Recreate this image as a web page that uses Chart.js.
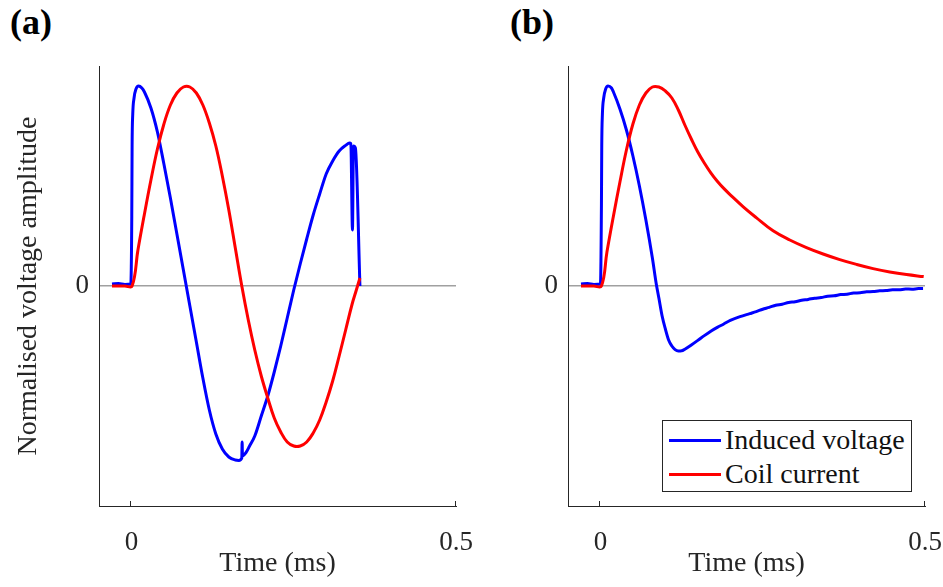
<!DOCTYPE html>
<html>
<head>
<meta charset="utf-8">
<script src="https://cdn.jsdelivr.net/npm/chart.js@4.4.0/dist/chart.umd.min.js"></script>
<style>
body { margin:0; background:#fff; width:943px; height:587px; position:relative; overflow:hidden; font-family:"Liberation Serif", serif; }
.panel-label { position:absolute; top:4px; font-weight:bold; font-size:36px; line-height:36px; color:#000; }
.wrap { position:absolute; top:50px; }
#legend { position:absolute; left:662px; top:420px; width:250px; height:72px; box-sizing:border-box; border:1px solid #262626; background:#fff; }
#legend .row { position:absolute; left:0; height:28px; }
#legend .swatch { position:absolute; left:6px; width:52px; height:3px; }
#legend .txt { position:absolute; left:62px; top:0; font-size:28px; line-height:28px; white-space:nowrap; color:#111; }
</style>
</head>
<body>
<div class="panel-label" style="left:10px">(a)</div>
<div class="panel-label" style="left:510px">(b)</div>
<div class="wrap" style="left:0"><canvas id="chartA" width="480" height="537"></canvas></div>
<div class="wrap" style="left:480px"><canvas id="chartB" width="463" height="537"></canvas></div>
<div id="legend"></div>
<script>
// labels and ticks
var seriesNames = ["Induced voltage", "Coil current"];
var seriesColors = ["#0000ff", "#ff0000"];
var xTicks = [0, 0.5];
var xTickLabels = ["0", "0.5"];
var yTicks = [0];
var yTickLabels = ["0"];
var xTitle = "Time (ms)";
var yTitle = "Normalised voltage amplitude";

// panel (a): induced voltage
var timeA_voltage = [-0.03, -0.02, -0.01, -0.001, 0.0005, 0.001, 0.002, 0.004, 0.007, 0.011, 0.016, 0.02, 0.03, 0.04,
  0.05, 0.06, 0.07, 0.08, 0.09, 0.10, 0.11, 0.12, 0.13, 0.14, 0.15, 0.16, 0.1655, 0.170, 0.1705, 0.171, 0.176, 0.182,
  0.19, 0.20, 0.21, 0.22, 0.23, 0.24, 0.25, 0.26, 0.27, 0.28, 0.29, 0.30, 0.31, 0.32, 0.33, 0.336,
  0.338, 0.3405, 0.342, 0.345, 0.352];
var voltageA = [0.01, 0.012, 0.008, 0.01, 0.35, 0.7, 0.86, 0.94, 0.985, 1.0, 0.99, 0.97, 0.89, 0.77,
  0.61, 0.44, 0.26, 0.08, -0.10, -0.28, -0.46, -0.62, -0.74, -0.815, -0.855, -0.87, -0.872, -0.86, -0.78, -0.85, -0.835, -0.80,
  -0.75, -0.65, -0.55, -0.43, -0.30, -0.16, -0.02, 0.11, 0.235, 0.355, 0.46, 0.56, 0.625, 0.675, 0.703, 0.715,
  0.712, 0.28, 0.70, 0.69, 0.0];

// panel (a): coil current
var timeA_current = [-0.03, -0.01, 0.001, 0.01, 0.02, 0.03, 0.04, 0.05, 0.06, 0.07, 0.08, 0.09, 0.10, 0.11,
  0.12, 0.13, 0.14, 0.15, 0.16, 0.17, 0.18, 0.19, 0.20, 0.21, 0.22, 0.23, 0.24, 0.25, 0.26, 0.27, 0.28,
  0.29, 0.30, 0.31, 0.32, 0.33, 0.34, 0.346, 0.352];
var currentA = [0, 0, 0, 0.18, 0.36, 0.53, 0.685, 0.81, 0.905, 0.965, 0.995, 0.995, 0.965, 0.905,
  0.815, 0.70, 0.55, 0.38, 0.19, 0.0, -0.17, -0.32, -0.45, -0.56, -0.66, -0.73, -0.78, -0.80, -0.80, -0.78, -0.735,
  -0.67, -0.58, -0.475, -0.35, -0.22, -0.09, -0.025, 0.04];

// panel (b): induced voltage
var timeB_voltage = [-0.03, -0.02, -0.01, 0, 0.0015, 0.002, 0.003, 0.005, 0.008, 0.0117, 0.017, 0.02, 0.03, 0.04,
  0.05, 0.06, 0.07, 0.08, 0.086, 0.09, 0.095, 0.10, 0.105, 0.11, 0.115, 0.12, 0.125, 0.13, 0.14, 0.15, 0.16,
  0.17, 0.18, 0.19, 0.20, 0.215, 0.23, 0.24, 0.25, 0.26, 0.27, 0.28, 0.29, 0.30, 0.31, 0.32, 0.33, 0.34,
  0.35, 0.36, 0.37, 0.38, 0.39, 0.40, 0.41, 0.42, 0.43, 0.44, 0.45, 0.46, 0.47, 0.48, 0.49, 0.497];
var voltageB = [0.01, 0.012, 0.008, 0.01, 0.4, 0.7, 0.86, 0.94, 0.985, 1.0, 0.99, 0.97, 0.885, 0.78,
  0.65, 0.50, 0.33, 0.14, 0.01, -0.06, -0.15, -0.215, -0.27, -0.30, -0.318, -0.325, -0.324, -0.316, -0.295, -0.272, -0.248,
  -0.226, -0.207, -0.19, -0.172, -0.153, -0.138, -0.128, -0.116, -0.107, -0.096, -0.091, -0.082, -0.079, -0.071, -0.067, -0.061, -0.058,
  -0.051, -0.049, -0.043, -0.041, -0.035, -0.034, -0.029, -0.028, -0.024, -0.023, -0.019, -0.019, -0.015, -0.016, -0.013, -0.013];

// panel (b): coil current
var timeB_current = [-0.03, -0.01, 0.0015, 0.01, 0.02, 0.03, 0.04, 0.05, 0.06, 0.07, 0.08, 0.09, 0.10, 0.11,
  0.12, 0.13, 0.14, 0.15, 0.16, 0.17, 0.18, 0.19, 0.20, 0.22, 0.24, 0.266, 0.2917, 0.3174, 0.343, 0.3687,
  0.3945, 0.42, 0.4457, 0.4715, 0.498];
var currentB = [0, 0, 0, 0.17, 0.35, 0.52, 0.68, 0.81, 0.905, 0.965, 0.995, 0.995, 0.975, 0.94,
  0.88, 0.805, 0.735, 0.67, 0.615, 0.566, 0.524, 0.488, 0.456, 0.396, 0.342, 0.276, 0.23, 0.192, 0.16, 0.132,
  0.108, 0.087, 0.07, 0.057, 0.047];

var axisColor = "#262626";
var fontFamily = "'Liberation Serif', 'Times New Roman', serif";

function toPoints(xs, ys) {
  return xs.map(function(x, i) { return { x: x, y: ys[i] }; });
}

var innerTicks = {
  id: "innerTicks",
  afterDraw: function(chart) {
    var ctx = chart.ctx, xs = chart.scales.x, area = chart.chartArea;
    ctx.save();
    ctx.strokeStyle = axisColor;
    ctx.lineWidth = 1;
    xTicks.forEach(function(v) {
      var px = Math.round(xs.getPixelForValue(v)) - 0.5;
      ctx.beginPath();
      ctx.moveTo(px, area.bottom);
      ctx.lineTo(px, area.bottom - 5);
      ctx.stroke();
    });
    ctx.restore();
  }
};

function makePanel(id, tV, v, tI, c, showYTitle, yWidth, padRight) {
  var ctx = document.getElementById(id).getContext("2d");
  return new Chart(ctx, {
    type: "line",
    data: {
      datasets: [{
        label: seriesNames[0],
        data: toPoints(tV, v),
        borderColor: seriesColors[0],
        borderWidth: 3,
        pointRadius: 0,
        cubicInterpolationMode: "monotone",
        order: 2
      }, {
        label: seriesNames[1],
        data: toPoints(tI, c),
        borderColor: seriesColors[1],
        borderWidth: 3,
        pointRadius: 0,
        tension: 0.4,
        order: 1
      }]
    },
    options: {
      responsive: false,
      animation: false,
      devicePixelRatio: 1,
      layout: { padding: { left: 0, top: 16, right: padRight, bottom: 0 } },
      plugins: { legend: { display: false }, tooltip: { enabled: false } },
      scales: {
        x: {
          type: "linear",
          min: -0.05,
          max: 0.5,
          afterBuildTicks: function(scale) {
            scale.ticks = xTicks.map(function(t) { return { value: t }; });
          },
          afterFit: function(scale) {
            scale.height = 81;
            scale.paddingLeft = 0;
            scale.paddingRight = 0;
          },
          ticks: {
            autoSkip: false,
            maxRotation: 0,
            padding: 13,
            color: axisColor,
            font: { family: fontFamily, size: 27 },
            callback: function(value, index) { return xTickLabels[index]; }
          },
          grid: { display: false },
          border: { display: true, color: axisColor, width: 1 },
          title: {
            display: true,
            text: xTitle,
            color: axisColor,
            font: { family: fontFamily, size: 28 },
            padding: { top: 0, bottom: 7 }
          }
        },
        y: {
          type: "linear",
          min: -1.1,
          max: 1.1,
          afterBuildTicks: function(scale) {
            scale.ticks = yTicks.map(function(t) { return { value: t }; });
          },
          afterFit: function(scale) {
            scale.width = yWidth;
            scale.paddingTop = 0;
            scale.paddingBottom = 0;
          },
          ticks: {
            padding: 10,
            color: axisColor,
            font: { family: fontFamily, size: 27 },
            callback: function(value, index) { return yTickLabels[index]; }
          },
          grid: { display: true, drawTicks: false, color: "#a0a0a0", lineWidth: 1.5 },
          border: { display: true, color: axisColor, width: 1 },
          title: {
            display: showYTitle,
            text: yTitle,
            color: axisColor,
            font: { family: fontFamily, size: 28 },
            padding: { top: 12, bottom: 0 }
          }
        }
      }
    },
    plugins: [innerTicks]
  });
}

var charts = [
  makePanel("chartA", timeA_voltage, voltageA, timeA_current, currentA, true, 99, 24),
  makePanel("chartB", timeB_voltage, voltageB, timeB_current, currentB, false, 88, 18)
];

// redraw once the serif font is ready for canvas text
Promise.all([
  document.fonts.load("27px 'Liberation Serif'"),
  document.fonts.load("28px 'Liberation Serif'")
]).then(function() {
  charts.forEach(function(ch) { ch.update(); });
});

// legend inside panel (b)
var legend = document.getElementById("legend");
seriesNames.forEach(function(name, i) {
  var row = document.createElement("div");
  row.className = "row";
  row.style.top = (5 + i * 34) + "px";
  row.style.width = "240px";
  var sw = document.createElement("div");
  sw.className = "swatch";
  sw.style.top = "12.5px";
  sw.style.background = seriesColors[i];
  var tx = document.createElement("div");
  tx.className = "txt";
  tx.textContent = name;
  row.appendChild(sw);
  row.appendChild(tx);
  legend.appendChild(row);
});
</script>
</body>
</html>
